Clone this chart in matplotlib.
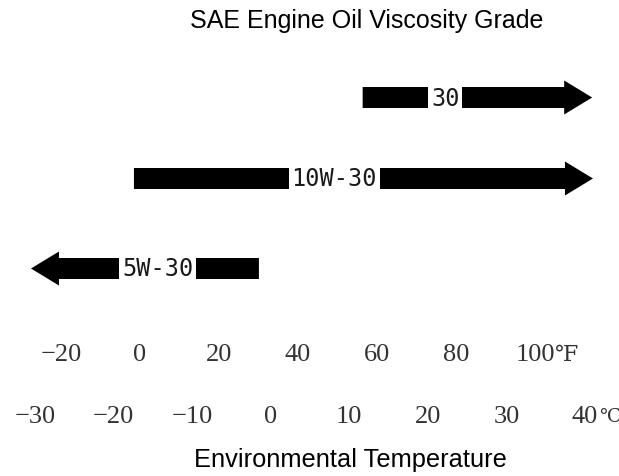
import matplotlib
matplotlib.use("Agg")
import matplotlib.pyplot as plt
from matplotlib.patches import FancyArrow

# ---- data ----
grades = ["30", "10W-30", "5W-30"]
range_start_c = [11.7, -17.4, -1.5]     # flat end of each bar (deg C)
range_end_c = [40.9, 41.0, -30.5]       # arrow tip of each bar (deg C)
label_pos_c = [22.2, 8.1, -14.4]        # where the grade label sits on the bar
celsius_ticks = [-30, -20, -10, 0, 10, 20, 30, 40]
fahrenheit_ticks = [-20, 0, 20, 40, 60, 80, 100]

title = "SAE Engine Oil Viscosity Grade"
xlabel = "Environmental Temperature"

# ---- layout ----
W, H = 619, 476
fig = plt.figure(figsize=(W / 100, H / 100), dpi=100)
ax = fig.add_axes([0, 0, 1, 1])
# Celsius axis: pixel = 270.7 + 7.86*C
c0, cs = 270.7, 7.86
ax.set_xlim(-c0 / cs, (W - c0) / cs)
ax.set_ylim(H, 0)
ax.axis("off")

# Fahrenheit axis (the reference's own spacing)
axf = fig.add_axes([0, 0, 1, 1], frameon=False)
f0, fs = 140.0, 3.95
axf.set_xlim(-f0 / fs, (W - f0) / fs)
axf.set_ylim(H, 0)
axf.axis("off")

bar_rows = [97.5, 178.5, 268.5]
bar_w = 21
head_w = 34
head_len = 28 / cs

for g, s, e, lp, yrow in zip(grades, range_start_c, range_end_c, label_pos_c, bar_rows):
    arr = FancyArrow(s, yrow, e - s, 0, width=bar_w, head_width=head_w,
                     head_length=head_len, length_includes_head=True,
                     color="black", lw=0)
    ax.add_patch(arr)
    ax.text(lp, yrow + 1, g, ha="center", va="center", fontsize=17,
            family=["DejaVu Sans Mono"], color="#1a1a1a",
            bbox=dict(boxstyle="square,pad=0.12", fc="white", ec="none"))

tick_font = ["Liberation Serif", "DejaVu Serif", "Noto Sans CJK JP"]
unit_font = ["DejaVu Serif", "Noto Sans CJK JP"]
tick_color = "#333333"

def fmt(v):
    return ("\u2212" + str(-v)) if v < 0 else str(v)

last = None
for v in fahrenheit_ticks:
    last = axf.text(v, 355, fmt(v), ha="center", va="center", fontsize=19,
                    family=tick_font, color=tick_color)
axf.annotate("\u2109", xy=(1, 0.5), xycoords=last, xytext=(0.5, 0),
             textcoords="offset points", ha="left", va="center",
             fontsize=16, family=unit_font, color=tick_color)

for v in celsius_ticks:
    last = ax.text(v, 417, fmt(v), ha="center", va="center", fontsize=19,
                   family=tick_font, color=tick_color)
ax.annotate("\u2103", xy=(1, 0.5), xycoords=last, xytext=(0.3, 0),
            textcoords="offset points", ha="left", va="center",
            fontsize=14, family=unit_font, color=tick_color)

fig.text(367 / W, 1 - 21 / H, title, ha="center", va="center", fontsize=18,
         family=["Liberation Sans", "DejaVu Sans"], color="black")
fig.text(350 / W, 1 - 460 / H, xlabel, ha="center", va="center", fontsize=18.3,
         family=["Liberation Sans", "DejaVu Sans"], color="black")

fig.savefig("out.png", dpi=100)
